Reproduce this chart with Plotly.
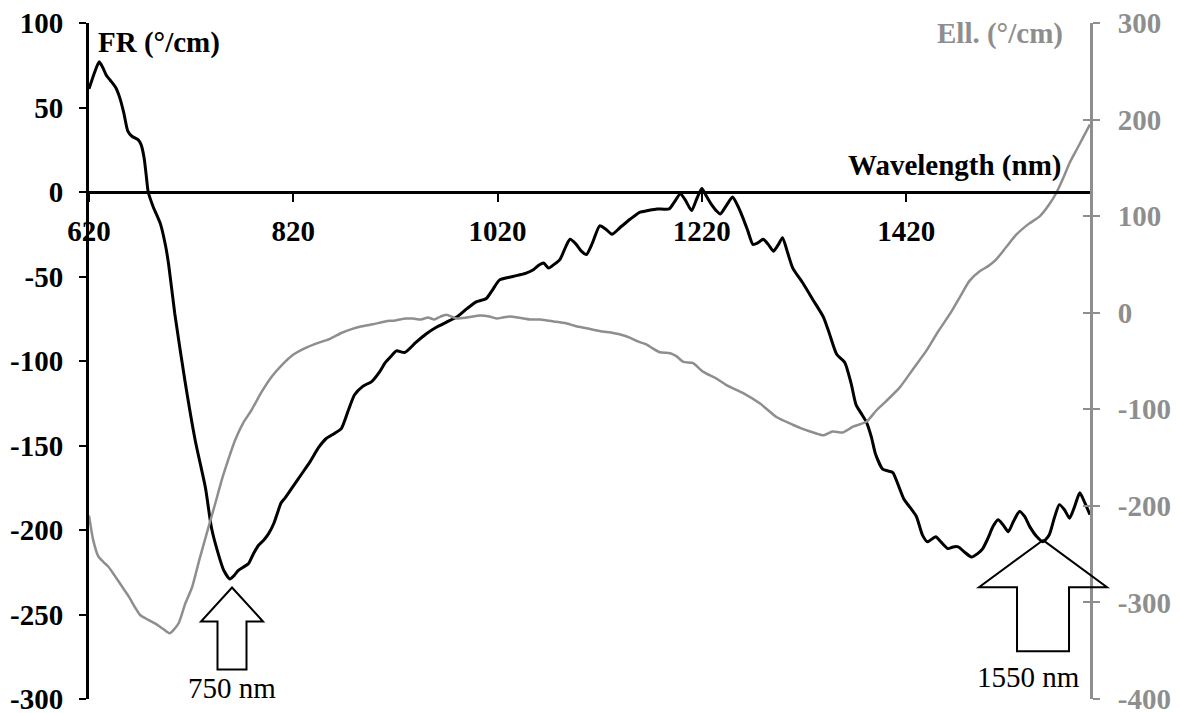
import plotly.graph_objects as go

# -----------------------------
# Data
# -----------------------------
fr_wavelength = [
    620, 625, 630, 634, 637, 641, 646, 650, 654, 658, 662, 668, 671, 674, 676, 678,
    683, 690, 695, 698, 704, 714, 724, 734, 740, 747, 752, 758, 762, 766, 771, 776,
    781, 786, 791, 796, 801, 805, 808, 812, 820, 828, 836, 845, 852, 860, 867, 874,
    880, 888, 897, 905, 910, 916, 921, 929, 940, 950, 960, 970, 980, 990, 999, 1009,
    1015, 1022, 1035, 1048, 1055, 1061, 1065, 1070, 1075, 1081, 1087, 1091, 1097,
    1102, 1107, 1113, 1120, 1126, 1132, 1140, 1150, 1159, 1167, 1176, 1188, 1193,
    1199, 1204, 1210, 1215, 1220, 1224, 1229, 1234, 1238, 1244, 1250, 1255, 1260,
    1265, 1270, 1275, 1280, 1285, 1290, 1295, 1299, 1304, 1309, 1319, 1329, 1339,
    1345, 1352, 1360, 1366, 1371, 1376, 1381, 1386, 1390, 1397, 1402, 1407, 1412,
    1418, 1423, 1430, 1436, 1441, 1446, 1449, 1454, 1461, 1466, 1471, 1477, 1484,
    1490, 1495, 1500, 1505, 1510, 1515, 1520, 1525, 1531, 1536, 1541, 1548, 1554,
    1560, 1565, 1570, 1575, 1580, 1585, 1590, 1595, 1600,
]
fr_values = [
    61, 70, 77, 73, 69, 66, 62, 56, 47, 36, 33, 31, 28, 20, 10, 0,
    -9, -19, -32, -43, -72, -112, -147, -175, -199, -215, -224, -229, -227, -224, -222, -220,
    -214, -209, -206, -202, -196, -189, -184, -181, -174, -167, -160, -151, -146, -143, -140, -129,
    -120, -115, -112, -106, -101, -97, -94, -95, -89, -84, -80, -77, -74, -69, -65, -63,
    -58, -52, -50, -48, -46, -43, -42, -45, -43, -40, -32, -28, -31,
    -35, -37, -30, -20, -22, -25, -21, -16, -12, -11, -10, -10, -6,
    -1, -5, -11, -4, 2, -2, -7, -11, -13, -8, -3, -8, -15,
    -23, -31, -30, -28, -31, -35, -31, -27, -36, -45, -54, -64, -74,
    -84, -96, -101, -113, -126, -131, -136, -145, -155, -164, -165, -166, -173,
    -182, -186, -192, -203, -207, -205, -204, -207, -211, -210, -210, -213, -216,
    -214, -211, -205, -198, -194, -197, -201, -195, -189, -192, -198, -204, -207,
    -203, -193, -185, -188, -193, -186, -178, -184, -191,
]

ell_wavelength = [
    620, 624, 629, 634, 639, 645, 652, 659, 665, 670, 678, 685, 692, 699, 704, 708,
    714, 721, 728, 737, 744, 750, 757, 763, 771, 779, 789, 799, 809, 818, 831, 845,
    856, 867, 877, 887, 898, 910, 920, 930, 937, 945, 952, 958, 964, 970, 975, 980,
    990, 1003, 1012, 1019, 1025, 1032, 1040, 1052, 1062, 1075, 1087, 1097, 1107,
    1120, 1133, 1142, 1150, 1158, 1166, 1172, 1179, 1189, 1195, 1202, 1211, 1221,
    1234, 1244, 1260, 1277, 1293, 1309, 1318, 1326, 1332, 1339, 1348, 1358, 1368,
    1381, 1391, 1400, 1414, 1427, 1440, 1451, 1463, 1473, 1482, 1492, 1500, 1508,
    1518, 1528, 1540, 1551, 1560, 1567, 1574, 1580, 1587, 1593, 1600,
]
ell_values = [
    -210, -235, -252, -258, -263, -272, -283, -294, -305, -313, -318, -322, -327, -332, -327, -321,
    -302, -284, -256, -222, -196, -173, -150, -132, -114, -101, -82, -66, -54, -45, -37, -31,
    -27, -21, -17, -14, -12, -9, -8, -6, -6, -7, -5, -7, -4, -2, -4, -6,
    -5, -3, -4, -6, -5, -4, -5, -7, -7, -9, -11, -14, -16,
    -19, -21, -23, -26, -30, -33, -37, -41, -42, -45, -51, -52, -61,
    -68, -75, -83, -94, -108, -116, -120, -123, -125, -127, -123, -124, -118,
    -113, -101, -92, -77, -58, -39, -20, -1, 17, 33, 43, 48, 55,
    68, 81, 92, 100, 112, 124, 140, 155, 169, 181, 195,
]

fr_ticks = [-300, -250, -200, -150, -100, -50, 0, 50, 100]
ell_ticks = [-400, -300, -200, -100, 0, 100, 200, 300]
wl_ticks = [620, 820, 1020, 1220, 1420]

# marked wavelengths: (label, tip x in nm, tip y in FR units)
markers = [("750 nm", 760, -234), ("1550 nm", 1554, -206)]

# -----------------------------
# Layout constants
# (page body adds 8px offset, margins compensate)
# -----------------------------
W, H = 1180, 713
ML, MR, MT, MB = 81, 98, 15, 22
PW, PH = W - ML - MR, H - MT - MB
X_RANGE = [620, 1600]
Y_RANGE = [-300, 100]
Y2_RANGE = [-400, 300]
GRAY = "#8e8e8e"
FONT = "Liberation Serif"
FS = 29

bold = dict(family=FONT, size=FS, color="black", weight="bold")
bold_gray = dict(family=FONT, size=FS, color=GRAY, weight="bold")


def labels(vals):
    # plain hyphen for negatives, like the original
    return [str(v) for v in vals]


fig = go.Figure()

fig.add_trace(
    go.Scatter(
        x=ell_wavelength,
        y=ell_values,
        mode="lines",
        line=dict(color=GRAY, width=2.5, shape="spline", smoothing=0.6),
        yaxis="y2",
        showlegend=False,
    )
)
fig.add_trace(
    go.Scatter(
        x=fr_wavelength,
        y=fr_values,
        mode="lines",
        line=dict(color="black", width=3, shape="spline", smoothing=0.6),
        showlegend=False,
    )
)
# dummy trace so the crossing-tick axis is drawn
fig.add_trace(
    go.Scatter(x=[X_RANGE[0]], y=[Y2_RANGE[0]], mode="markers",
               marker=dict(opacity=0), yaxis="y3", showlegend=False,
               hoverinfo="skip")
)


# -----------------------------
# Block arrows (paper coords)
# -----------------------------
def to_paper_x(v):
    return (v - X_RANGE[0]) / (X_RANGE[1] - X_RANGE[0])


def to_paper_y(v):
    return (v - Y_RANGE[0]) / (Y_RANGE[1] - Y_RANGE[0])


def block_arrow(xc, ytip, head_half, head_h, shaft_half, total_h):
    # sizes in pixels -> paper
    hx, sx = head_half / PW, shaft_half / PW
    hh, th = head_h / PH, total_h / PH
    pts = [
        (xc, ytip),
        (xc + hx, ytip - hh),
        (xc + sx, ytip - hh),
        (xc + sx, ytip - th),
        (xc - sx, ytip - th),
        (xc - sx, ytip - hh),
        (xc - hx, ytip - hh),
    ]
    return "M " + " L ".join(f"{px:.5f},{py:.5f}" for px, py in pts) + " Z"


arrow_sizes = [(31, 34, 14.5, 82, 0, 101), (64, 47, 26, 111, -15, 137)]

for (label, wl, fr), (hh, hl, sh, tl, lx, ly) in zip(markers, arrow_sizes):
    xc, yt = to_paper_x(wl), to_paper_y(fr)
    fig.add_shape(
        type="path",
        path=block_arrow(xc, yt, hh, hl, sh, tl),
        xref="paper",
        yref="paper",
        line=dict(color="black", width=2),
        fillcolor="rgba(0,0,0,0)",
    )
    fig.add_annotation(
        text=label,
        xref="paper",
        yref="paper",
        x=xc,
        y=yt,
        xshift=lx,
        yshift=-ly,
        showarrow=False,
        xanchor="center",
        yanchor="middle",
        font=dict(family=FONT, size=FS, color="black"),
    )

# -----------------------------
# Axis titles as text
# -----------------------------
fig.add_annotation(text="FR (°/cm)", xref="paper", yref="paper", x=0, y=1,
                   xshift=7, yshift=-19, xanchor="left", yanchor="middle",
                   showarrow=False, font=bold)
fig.add_annotation(text="Ell. (°/cm)", xref="paper", yref="paper", x=1, y=1,
                   xshift=-25, yshift=-10, xanchor="right", yanchor="middle",
                   showarrow=False, font=bold_gray)
fig.add_annotation(text="Wavelength (nm)", xref="paper", yref="paper", x=1,
                   y=to_paper_y(0), xshift=-27, yshift=27, xanchor="right",
                   yanchor="middle", showarrow=False, font=bold)

fig.update_layout(
    width=W,
    height=H,
    margin=dict(l=ML, r=MR, t=MT, b=MB, autoexpand=False),
    plot_bgcolor="white",
    paper_bgcolor="white",
    xaxis=dict(
        range=X_RANGE,
        anchor="free",
        position=to_paper_y(0),
        tickvals=wl_ticks,
        ticktext=labels(wl_ticks),
        ticks="outside",
        ticklen=8,
        tickwidth=2,
        tickcolor="black",
        showline=True,
        linecolor="black",
        linewidth=3,
        showgrid=False,
        zeroline=False,
        tickfont=bold,
        ticklabelstandoff=4,
        ticklabeloverflow="allow",
        automargin=False,
    ),
    yaxis=dict(
        range=Y_RANGE,
        tickvals=fr_ticks,
        ticktext=labels(fr_ticks),
        ticks="outside",
        ticklen=7,
        tickwidth=2,
        tickcolor="black",
        showline=True,
        linecolor="black",
        linewidth=3,
        showgrid=False,
        zeroline=False,
        tickfont=bold,
        ticklabelstandoff=10,
        ticklabeloverflow="allow",
        automargin=False,
    ),
    yaxis2=dict(
        range=Y2_RANGE,
        overlaying="y",
        side="right",
        tickvals=ell_ticks,
        ticktext=labels(ell_ticks),
        ticks="outside",
        ticklen=7,
        tickwidth=2,
        tickcolor=GRAY,
        showline=True,
        linecolor=GRAY,
        linewidth=3,
        showgrid=False,
        zeroline=False,
        tickfont=bold_gray,
        ticklabelstandoff=12,
        ticklabeloverflow="allow",
        automargin=False,
    ),
    yaxis3=dict(
        range=Y2_RANGE,
        overlaying="y",
        side="right",
        tickvals=ell_ticks,
        ticks="inside",
        ticklen=7,
        tickwidth=2,
        tickcolor=GRAY,
        showticklabels=False,
        showline=False,
        showgrid=False,
        zeroline=False,
        automargin=False,
    ),
)

fig.write_html("out.html")
